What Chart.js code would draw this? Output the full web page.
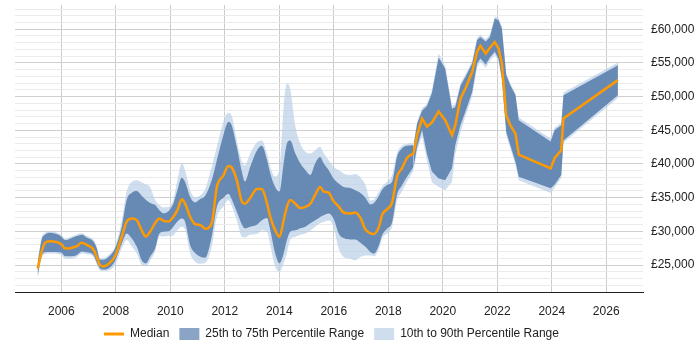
<!DOCTYPE html>
<html>
<head>
<meta charset="utf-8">
<script src="https://cdn.jsdelivr.net/npm/chart.js@4.4.1/dist/chart.umd.min.js"></script>
<style>
html,body{margin:0;padding:0;background:#fff;}
#wrap{width:700px;height:350px;}
</style>
</head>
<body>
<div id="wrap"><canvas id="c" width="700" height="350"></canvas></div>
<script>
const years = [2005.13, 2005.28, 2005.40, 2005.58, 2006.00, 2006.14, 2006.32, 2006.57, 2006.75, 2006.93,
  2007.18, 2007.30, 2007.42, 2007.54, 2007.73, 2007.97, 2008.22, 2008.40, 2008.59, 2008.77,
  2008.95, 2009.10, 2009.26, 2009.44, 2009.60, 2009.75, 2009.93, 2010.11, 2010.26, 2010.42,
  2010.54, 2010.73, 2010.91, 2011.10, 2011.28, 2011.52, 2011.71, 2011.95, 2012.13, 2012.25,
  2012.44, 2012.63, 2012.74, 2012.93, 2013.18, 2013.36, 2013.55, 2013.67, 2013.85, 2014.01,
  2014.16, 2014.28, 2014.40, 2014.59, 2014.77, 2014.96, 2015.14, 2015.32, 2015.50, 2015.63,
  2015.81, 2015.99, 2016.18, 2016.36, 2016.61, 2016.79, 2016.98, 2017.16, 2017.35, 2017.47,
  2017.66, 2017.78, 2017.96, 2018.14, 2018.32, 2018.50, 2018.69, 2018.93, 2019.06, 2019.24,
  2019.42, 2019.60, 2019.85, 2020.09, 2020.34, 2020.46, 2020.65, 2020.83, 2021.08, 2021.26,
  2021.38, 2021.58, 2021.73, 2021.91, 2022.05, 2022.17, 2022.33, 2022.48, 2022.67, 2022.79,
  2023.96, 2024.11, 2024.35, 2024.43, 2026.43];

const p10 = [23000, 26000, 26600, 26700, 26500, 25950, 25950, 26200, 26700, 26600,
  26200, 25100, 24200, 24100, 24200, 25000, 27450, 28700, 27700, 26700,
  25000, 24800, 25600, 27000, 29250, 29250, 29300, 29400, 30150, 30700,
  30300, 26700, 25500, 25200, 25300, 27700, 32150, 33650, 34650, 33800,
  31650, 29200, 29100, 29500, 29600, 30150, 29950, 27950, 24750, 24000,
  25250, 26800, 28700, 29200, 29500, 29700, 30100, 30700, 31200, 31400,
  31600, 30700, 27450, 26200, 25950, 25700, 26200, 26400, 26400, 26300,
  27400, 29000, 29700, 30700, 34500, 35900, 37350, 39000, 42000, 44100,
  40500, 37300, 36600, 36100, 37350, 41500, 44700, 47000, 50000, 54300,
  55200, 54300, 55300, 56200, 55200, 52300, 44300, 42300, 39800, 37600,
  35700, 36500, 37900, 43150, 49800];

const p25 = [23300, 26400, 26900, 26950, 26850, 26300, 26300, 26500, 27000, 26900,
  26500, 25400, 24500, 24350, 24500, 25600, 28200, 29700, 28950, 27700,
  25700, 25250, 26250, 27450, 29700, 29950, 30000, 30700, 31450, 31900,
  31450, 27950, 26800, 26250, 26100, 29200, 33650, 35000, 35600, 34800,
  32900, 31000, 30450, 30700, 31000, 31650, 32000, 30150, 26700, 25250,
  26700, 28700, 29950, 30150, 30450, 30700, 31200, 31650, 32150, 32400,
  32650, 31900, 29700, 29000, 28800, 28800, 28300, 27700, 26900, 26700,
  27950, 29500, 30400, 31300, 35400, 36800, 38100, 39600, 42600, 45050,
  41500, 38900, 37850, 37600, 39350, 42800, 45750, 47750, 50700, 54900,
  55650, 54750, 55800, 56650, 55600, 52700, 44750, 42800, 40300, 38100,
  36400, 36950, 38350, 43500, 50200];

const median = [24500, 27000, 28300, 28550, 28100, 27450, 27500, 27800, 28300, 28000,
  27300, 26200, 25000, 24800, 25150, 26300, 29200, 31450, 31900, 31650,
  30150, 29250, 29950, 31200, 31900, 31550, 31450, 32150, 33150, 34750,
  34150, 32150, 31050, 30950, 30400, 31200, 36600, 38300, 39700, 39500,
  37600, 34400, 34100, 34950, 36300, 36300, 34150, 32150, 30150, 29200,
  31650, 33650, 34650, 34100, 33450, 33650, 34100, 35450, 36600, 35900,
  35750, 34500, 33700, 32800, 32650, 32800, 32000, 30300, 29700, 29600,
  30700, 32500, 33300, 34250, 38100, 39350, 40900, 41550, 44300, 46750,
  45550, 46150, 47800, 46500, 44300, 45750, 49700, 51200, 53650, 56650,
  57550, 56400, 57250, 58100, 57150, 54900, 47250, 45750, 44500, 41400,
  39350, 40900, 42050, 46750, 52450];

const p75 = [25300, 28800, 29500, 29800, 29250, 28700, 28900, 29300, 29500, 29100,
  28500, 27500, 25800, 25800, 26200, 27450, 30700, 34700, 35750, 36000,
  35300, 34700, 34200, 33900, 33150, 32700, 33000, 34100, 36100, 37950,
  37350, 35100, 34300, 34800, 35300, 37600, 40600, 44300, 46250, 45800,
  42550, 38800, 37400, 39550, 42000, 42700, 40600, 38600, 36600, 35900,
  40100, 43050, 43500, 41550, 40100, 39100, 38350, 40100, 41050, 40100,
  39100, 37850, 37100, 36600, 36450, 36100, 35700, 35000, 34000, 34200,
  35300, 36200, 36900, 37350, 41050, 42300, 42700, 42800, 46000, 47900,
  48600, 50500, 55800, 54150, 48200, 48450, 51600, 52900, 54900, 58400,
  58850, 58200, 58850, 61600, 61350, 60100, 53200, 51700, 50200, 46500,
  43350, 45050, 45750, 50200, 54650];

const p90 = [25600, 29100, 29800, 30050, 29500, 28950, 29150, 29550, 29750, 29350,
  28750, 27750, 26050, 26050, 26500, 27700, 31650, 35900, 37350, 37600,
  37300, 37000, 36600, 34700, 33900, 33550, 33600, 34700, 37600, 40100,
  39100, 36100, 35000, 35350, 36300, 39600, 42550, 46300, 47600, 47200,
  43500, 40300, 39800, 41550, 43200, 43500, 41550, 39550, 38150, 39350,
  48500, 51950, 51200, 45550, 43050, 41800, 41550, 42050, 42550, 41600,
  40600, 39600, 39100, 38600, 38350, 38500, 38000, 36900, 34600, 34700,
  35900, 36700, 37400, 38300, 41550, 42700, 43000, 43100, 46300, 48300,
  48900, 50900, 56400, 54600, 48650, 48900, 52000, 53300, 55300, 58750,
  59200, 58500, 59200, 61900, 61700, 60400, 53500, 52000, 50500, 46900,
  43800, 45400, 46100, 50600, 55050];

const xTickYears = [2006, 2008, 2010, 2012, 2014, 2016, 2018, 2020, 2022, 2024, 2026];
const yTickValues = [21000, 22000, 23000, 24000, 25000, 26000, 27000, 28000, 29000, 30000,
  31000, 32000, 33000, 34000, 35000, 36000, 37000, 38000, 39000, 40000,
  41000, 42000, 43000, 44000, 45000, 46000, 47000, 48000, 49000, 50000,
  51000, 52000, 53000, 54000, 55000, 56000, 57000, 58000, 59000, 60000,
  61000, 62000, 63000];
const yLabelValues = [25000, 30000, 35000, 40000, 45000, 50000, 55000, 60000];
const legendLabels = ['Median', '25th to 75th Percentile Range', '10th to 90th Percentile Range'];

// index where the series switches from smoothed to straight segments
const SPLIT = 77;

const FONT = "'Liberation Sans', Arial, Helvetica, sans-serif";
const fmt = v => '£' + String(v).replace(/\B(?=(\d{3})+(?!\d))/g, ',');
const pts = (arr, a, b) => arr.slice(a, b + 1).map((v, k) => ({x: years[a + k], y: v}));

function group(a, b, smooth) {
  const interp = smooth ? {cubicInterpolationMode: 'monotone'} : {tension: 0};
  const band = Object.assign({pointRadius: 0, pointHoverRadius: 0, borderWidth: 0,
    borderColor: 'rgba(0,0,0,0)'}, interp);
  return [
    Object.assign({data: pts(p90, a, b), fill: '+1', backgroundColor: 'rgba(186,208,231,0.7)', order: 3}, band),
    Object.assign({data: pts(p10, a, b), fill: false, order: 3}, band),
    Object.assign({data: pts(p75, a, b), fill: '+1', backgroundColor: 'rgba(77,118,167,0.8)', order: 2}, band),
    Object.assign({data: pts(p25, a, b), fill: false, order: 2}, band),
    Object.assign({data: pts(median, a, b), fill: false, borderColor: '#ff9900', backgroundColor: '#ff9900',
      borderWidth: 2.5, pointRadius: 0, pointHoverRadius: 0, order: 1}, interp)
  ];
}

const legendShift = {
  id: 'legendShift',
  afterLayout(chart) {
    const lg = chart.legend;
    if (!lg || !lg.lineWidths) return;
    const w = lg.lineWidths[0];
    lg.left = 15;
    lg.right = 104 * 2 - 10 - 15 + w;
  }
};

new Chart(document.getElementById('c'), {
  type: 'line',
  data: {
    datasets: group(0, SPLIT, true).concat(group(SPLIT, years.length - 1, false))
  },
  plugins: [legendShift],
  options: {
    responsive: false,
    devicePixelRatio: 1,
    animation: false,
    layout: {padding: {left: 15, top: 5, right: 0, bottom: 0}},
    plugins: {
      tooltip: {enabled: false},
      legend: {
        position: 'bottom',
        labels: {
          usePointStyle: true,
          pointStyleWidth: 20,
          boxHeight: 12,
          padding: 10,
          color: '#222',
          font: {size: 12, family: FONT},
          generateLabels: () => [
            {text: legendLabels[0], pointStyle: 'line', fillStyle: '#ff9900', strokeStyle: '#ff9900',
              lineWidth: 3, hidden: false, datasetIndex: 4, fontColor: '#222'},
            {text: legendLabels[1], pointStyle: 'rect', fillStyle: '#8aa4c6',
              strokeStyle: '#8aa4c6', lineWidth: 0, hidden: false, datasetIndex: 2, fontColor: '#222'},
            {text: legendLabels[2], pointStyle: 'rect', fillStyle: '#cfdeee',
              strokeStyle: '#cfdeee', lineWidth: 0, hidden: false, datasetIndex: 0, fontColor: '#222'}
          ]
        }
      }
    },
    scales: {
      x: {
        type: 'linear',
        min: 2004.3,
        max: 2027.35,
        afterBuildTicks: s => { s.ticks = xTickYears.map(v => ({value: v})); },
        afterFit: s => { s.height = 26; s.paddingLeft = 0; s.paddingRight = 0; },
        ticks: {
          callback: v => String(v),
          autoSkip: false, maxRotation: 0, padding: 12,
          color: '#222', font: {size: 12, family: FONT}
        },
        grid: {color: '#cccccc', drawTicks: false},
        border: {color: '#222', width: 1}
      },
      y: {
        position: 'right',
        min: 21000,
        max: 63600,
        afterBuildTicks: s => { s.ticks = yTickValues.map(v => ({value: v})); },
        afterFit: s => { s.width = 57; s.paddingTop = 0; s.paddingBottom = 0; },
        ticks: {
          callback: v => yLabelValues.includes(v) ? fmt(v) : '',
          autoSkip: false, padding: 8,
          color: '#222', font: {size: 12, family: FONT}
        },
        grid: {
          drawTicks: false,
          color: ctx => (ctx.tick && ctx.tick.value % 5000 === 0) ? '#cfcfcf' : '#ebebeb'
        },
        border: {display: false}
      }
    }
  }
});
</script>
</body>
</html>
